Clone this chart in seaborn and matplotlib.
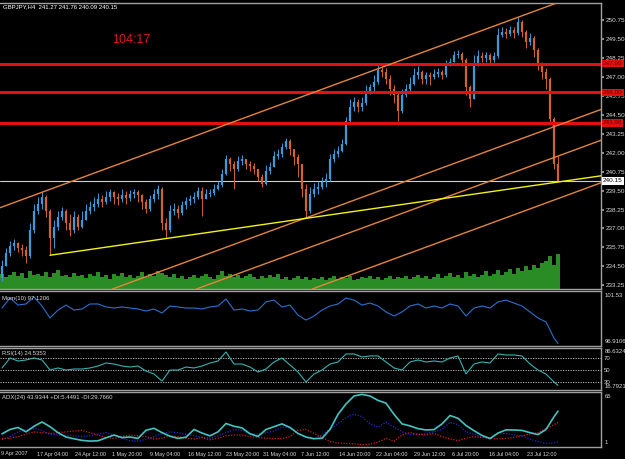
'''
GBPJPY H4 chart redraw: candles, channels, volume and three indicator panes
'''
import numpy as np
import pandas as pd
import seaborn as sns
import matplotlib.pyplot as plt
import matplotlib.transforms as mtransforms

# %% Data

first_open = 233.75
closes = [
    234.51, 235.36, 235.82, 236.02, 235.69, 235.56, 235.16, 236.87, 238.18, 238.64,
    239.10, 238.18, 236.34, 237.13, 237.79, 238.18, 237.33, 236.87, 237.79, 237.13,
    237.53, 238.18, 238.44, 238.64, 238.97, 238.77, 239.10, 239.43, 239.10, 238.97,
    239.23, 239.04, 239.30, 239.43, 239.23, 238.77, 238.31, 238.97, 239.30, 239.63,
    237.33, 236.87, 238.18, 238.31, 238.05, 238.58, 238.84, 238.97, 239.10, 239.49,
    238.97, 239.30, 239.36, 239.63, 239.89, 240.61, 241.59, 241.27, 240.94, 241.46,
    241.59, 241.27, 241.14, 240.94, 240.41, 239.95, 240.81, 241.07, 241.79, 241.92,
    242.38, 242.78, 242.25, 241.73, 241.27, 239.63, 238.18, 239.30, 239.63, 239.76,
    240.09, 240.28, 241.59, 241.92, 242.12, 242.58, 244.09, 245.01, 245.34, 245.01,
    245.27, 246.06, 246.32, 246.71, 247.50, 247.37, 246.85, 246.19, 245.80, 244.74,
    245.80, 246.19, 246.58, 247.17, 247.37, 246.85, 247.11, 246.98, 247.24, 247.37,
    247.11, 247.76, 248.03, 248.49, 248.55, 248.16, 246.32, 245.53, 247.83, 248.42,
    248.29, 248.49, 248.16, 248.42, 249.80, 249.99, 249.86, 250.13, 249.93, 250.65,
    249.99, 249.34, 249.60, 248.81, 247.90, 247.37, 246.85, 244.22, 241.27, 240.15,
]
highs = [
    234.90, 235.69, 236.15, 236.28, 236.08, 235.95, 235.82, 237.33, 238.64, 239.10,
    239.43, 239.23, 238.31, 237.53, 238.18, 238.44, 238.31, 237.98, 238.18, 237.98,
    238.18, 238.64, 238.84, 239.10, 239.36, 239.23, 239.49, 239.63, 239.49, 239.36,
    239.63, 239.49, 239.56, 239.63, 239.56, 239.30, 238.97, 239.23, 239.63, 239.89,
    239.76, 237.66, 238.58, 238.71, 238.58, 238.84, 239.10, 239.23, 239.43, 239.76,
    239.76, 239.63, 239.63, 239.95, 240.15, 240.94, 241.86, 241.73, 241.46, 241.79,
    241.86, 241.59, 241.46, 241.33, 240.94, 240.61, 241.20, 241.40, 242.12, 242.25,
    242.64, 242.97, 242.91, 242.12, 241.92, 241.27, 239.95, 239.76, 240.02, 240.15,
    240.41, 240.68, 241.92, 242.25, 242.45, 242.91, 244.35, 245.53, 245.66, 245.53,
    245.66, 246.45, 246.58, 247.17, 247.83, 247.76, 247.63, 247.11, 246.45, 245.93,
    246.19, 246.52, 246.98, 247.63, 247.76, 247.50, 247.37, 247.37, 247.57, 247.63,
    247.50, 248.16, 248.29, 248.75, 248.81, 248.68, 248.29, 246.45, 248.49, 248.81,
    248.68, 248.68, 248.62, 248.68, 250.26, 250.32, 250.26, 250.39, 250.32, 250.98,
    250.78, 250.13, 249.93, 249.73, 248.95, 248.03, 247.63, 246.98, 244.35, 241.76,
]
lows = [
    233.52, 234.51, 235.16, 235.56, 235.42, 235.16, 234.70, 235.03, 236.67, 237.98,
    238.31, 237.79, 235.23, 235.69, 236.87, 237.53, 236.87, 236.48, 236.67, 236.87,
    237.00, 237.53, 237.98, 238.18, 238.44, 238.44, 238.64, 238.84, 238.64, 238.58,
    238.77, 238.64, 238.84, 239.04, 238.77, 238.31, 238.05, 238.18, 238.77, 238.97,
    236.87, 236.34, 236.74, 237.92, 237.66, 237.92, 238.31, 238.58, 238.71, 238.97,
    237.85, 238.97, 239.10, 239.23, 239.56, 239.76, 240.54, 240.81, 239.63, 240.81,
    241.20, 240.94, 240.81, 240.61, 240.15, 239.76, 239.89, 240.61, 241.07, 241.59,
    241.73, 242.25, 241.86, 241.20, 240.41, 239.10, 237.66, 238.05, 239.10, 239.30,
    239.63, 239.76, 240.15, 241.40, 241.73, 242.05, 242.51, 243.96, 244.74, 244.68,
    244.74, 245.14, 245.86, 246.06, 246.58, 246.98, 246.58, 245.80, 245.27, 244.09,
    244.61, 245.66, 246.06, 246.45, 246.85, 246.58, 246.58, 246.45, 246.85, 246.98,
    246.85, 246.98, 247.76, 248.03, 248.29, 247.76, 245.80, 245.01, 245.53, 247.76,
    248.03, 248.03, 247.90, 248.03, 248.29, 249.67, 249.60, 249.73, 249.60, 249.80,
    249.67, 248.95, 249.14, 248.35, 247.50, 246.85, 246.19, 243.89, 240.94, 240.09,
]
volumes = [
    1500, 1200, 1400, 1700, 1300, 1600, 1100, 1800, 1400, 1500,
    1300, 1700, 1200, 1600, 1900, 1300, 1400, 1200, 1600, 1300,
    1400, 1100, 1500, 1300, 1700, 1200, 1400, 1000, 1500, 1300,
    1600, 1200, 1400, 1100, 1300, 1700, 1200, 1500, 1300, 1800,
    1600, 1400, 1200, 1500, 1100, 1300, 1000, 1200, 1400, 1100,
    1300, 1500, 1200, 1000, 1400, 1800, 1300, 1500, 1200, 1400,
    1100, 1300, 1500, 1200, 1000, 1300, 1100, 1400, 1200, 1500,
    1000, 1200, 900, 1100, 1300, 1000, 1200, 900, 1100, 1000,
    1200, 900, 1100, 1300, 1000, 1200, 1100, 1300, 900, 1000,
    1200, 1100, 1300, 1000, 1200, 900, 1100, 1300, 1000, 1200,
    1100, 1300, 1000, 1200, 1400, 1100, 1300, 1000, 1200, 1500,
    1100, 1300, 1600, 1200, 1400, 1100, 1700, 1300, 1500, 1200,
    1400, 1800, 1300, 1500, 1900, 1400, 1700, 2000, 1500, 2100,
    1800, 2300, 1900, 2400, 2100, 2600, 2800, 3300, 2400, 3500,
]

# indicator readings, one every second candle plus the last one
ind_idx = list(range(0, 139, 2)) + [139]
mom_values = [
    100.10, 100.94, 100.35, 100.44, 101.03, 100.27, 99.26, 99.93, 100.35, 99.93,
    100.02, 100.44, 100.44, 100.19, 100.10, 100.19, 100.10, 100.02, 99.85, 100.02,
    99.68, 100.27, 100.19, 100.10, 100.10, 100.02, 100.19, 100.27, 100.86, 99.93,
    100.02, 99.85, 99.93, 100.61, 100.77, 100.19, 100.35, 99.51, 99.09, 99.43,
    99.93, 100.27, 100.44, 100.94, 100.77, 100.35, 100.52, 100.27, 99.77, 99.43,
    99.77, 100.27, 100.44, 100.10, 100.27, 100.10, 100.44, 100.27, 99.43, 100.10,
    100.27, 100.10, 100.61, 100.77, 100.52, 100.27, 99.77, 99.26, 98.93, 97.58,
    97.12,
]
rsi_values = [
    53.4, 70.0, 65.0, 66.7, 70.0, 66.7, 50.0, 53.4, 50.0, 51.7,
    51.7, 53.4, 56.7, 61.7, 60.0, 56.7, 55.0, 56.7, 48.4, 43.4,
    31.7, 50.0, 50.0, 55.0, 53.4, 56.7, 61.7, 65.0, 80.0, 60.0,
    60.0, 55.0, 46.7, 51.7, 63.4, 70.0, 58.4, 46.7, 30.1, 43.4,
    50.0, 60.0, 63.4, 76.7, 76.7, 71.7, 73.4, 73.4, 63.4, 53.4,
    50.0, 63.4, 66.7, 63.4, 65.0, 63.4, 70.0, 73.4, 43.4, 60.0,
    63.4, 61.7, 76.7, 75.0, 75.0, 73.4, 60.0, 50.0, 43.4, 30.1,
    24.54,
]
adx_values = [
    15.5, 21, 23.5, 18, 25, 30.4, 24.5, 17, 11.5, 9.3,
    7.3, 6.4, 6.8, 10.5, 14, 10.8, 11.5, 9.8, 20, 22.5,
    17, 12.5, 9.8, 11.3, 21, 16.5, 13, 18, 28.5, 25,
    23, 15.5, 12.3, 21, 24.5, 28, 23.5, 16, 11.5, 9.4,
    10, 21, 40, 53, 63, 65, 63, 57.5, 54, 40,
    28, 25.5, 22, 20.4, 20.8, 28, 38.5, 35, 26, 19.5,
    13.5, 9.6, 16.5, 20.5, 20.3, 19.8, 17, 14.6, 21, 37,
    43.93,
]
plus_di = [
    8, 12, 18, 21, 22, 20, 15, 14, 14, 13,
    12, 13, 15, 17, 14, 10, 7, 6, 9, 12,
    16, 18, 17, 15, 13, 11, 10, 13, 17, 21,
    20, 16, 15, 17, 19, 24, 23, 16, 11, 9,
    14, 22, 28, 36, 40, 37, 28, 24, 30, 24,
    18, 15, 14, 16, 18, 21, 30, 27, 18, 15,
    11, 10, 16, 16, 14, 13, 9, 6, 3.5, 4,
    5.45,
]
minus_di = [
    9.6, 10, 12, 15, 18, 17, 16, 17, 18, 19,
    20, 17, 14, 11, 9.6, 12, 14, 13, 12, 9,
    10, 13, 12, 10, 9, 11, 8, 10, 13, 14,
    14, 12, 11, 10, 9.6, 9.6, 12, 20, 21, 16,
    11, 6, 4, 3.5, 3, 2, 2.5, 5, 10, 6,
    14, 17, 15, 14, 16, 12, 9, 7, 10, 12,
    11, 10, 9.5, 9.6, 11, 13, 15, 17, 22, 27,
    29.77,
]

date_labels = ["17 Apr 04:00", "24 Apr 12:00", "1 May 20:00", "9 May 04:00",
               "16 May 12:00", "23 May 20:00", "31 May 04:00", "7 Jun 12:00",
               "14 Jun 20:00", "22 Jun 04:00", "29 Jun 12:00", "6 Jul 20:00",
               "16 Jul 04:00", "23 Jul 12:00"]
first_date_label = "9 Apr 2007"

level_prices = [247.90, 246.00, 243.98]
level_labels = ["247.90", "246.00", "243.98"]
last_price = 240.15

# trend lines as (candle, price) anchor pairs
channel_lines = [
    (0, 238.42, 139, 251.93),
    (62, 236.34, 97, 239.74),
    (69.5, 235.03, 144.5, 242.32),
    (79.5, 233.19, 144.5, 239.51),
]
support_line = (12, 235.23, 149.75, 240.48)

# %% Layout helpers
W, H = 625, 459
X_RIGHT = 601 / W
XLIM = (-0.5, 149.75)
date_pos = [8.75, 18.2, 27.6, 37.0, 46.45, 55.9, 65.3, 74.7, 84.15, 93.6,
            103.0, 112.4, 121.85, 131.3]

def px_rect(top, bottom):
    return [0, 1 - bottom / H, X_RIGHT, (bottom - top) / H]

sns.set_theme(style="dark", rc={
    "figure.facecolor": "black",
    "axes.facecolor": "black",
    "axes.edgecolor": "#9a9a9a",
    "text.color": "#d0d0d0",
    "xtick.color": "#b0b0b0",
    "ytick.color": "#b0b0b0",
})
plt.rcParams['font.family'] = ['Liberation Sans', 'DejaVu Sans']

txt_col = '#d8d8d8'
fig = plt.figure(figsize=(W / 100, H / 100), dpi=100)

def style_panel(ax):
    ax.grid(False)
    ax.set_xlim(XLIM)
    ax.set_xlabel("")
    ax.set_ylabel("")
    ax.spines["left"].set_visible(False)
    for s in ["top", "bottom", "right"]:
        ax.spines[s].set_color('#a0a0a0')
        ax.spines[s].set_linewidth(1.0)
    ax.set_xticks([])

# %% Main price panel
ax_vol = fig.add_axes(px_rect(3, 289), zorder=0)
ax_main = fig.add_axes(px_rect(3, 289), zorder=1)
ax_main.patch.set_visible(False)

df = pd.DataFrame({"close": closes, "high": highs, "low": lows, "volume": volumes})
df["open"] = [first_open] + closes[:-1]
df["idx"] = np.arange(len(df))
df["high"] = df[["high", "open", "close"]].max(axis=1)
df["low"] = df[["low", "open", "close"]].min(axis=1)
df["up"] = df.close >= df.open

ax_vol.bar(df.idx, df.volume, width=0.85, color='#2a8c24', linewidth=0)
ax_vol.set_xlim(XLIM)
ax_vol.set_ylim(0, 28600)
ax_vol.axis('off')
ax_vol.set_facecolor('black')

up_col, dn_col = '#3d9ad8', '#d0642c'
cols = np.where(df.up, up_col, dn_col)
ax_main.vlines(df.idx, df.low, df.high, colors=cols, linewidth=0.7, zorder=3)
ax_main.vlines(df.idx, df[["open", "close"]].min(axis=1), df[["open", "close"]].max(axis=1),
               colors=cols, linewidth=1.6, zorder=3)

for p in level_prices:
    ax_main.axhline(p, color='#e31010', linewidth=2.2, zorder=4)
ax_main.axhline(last_price, color='#cfcfcf', linewidth=0.8, zorder=2)

for x0, p0, x1, p1 in channel_lines:
    ax_main.axline((x0, p0), (x1, p1), color='#e4843a', linewidth=1.0, zorder=5)
sx0, sp0, sx1, sp1 = support_line
sns.lineplot(x=[sx0, sx1], y=[sp0, sp1], ax=ax_main, color='#f2f21a', linewidth=1.0, zorder=5)

ax_main.set_ylim(233.0, 251.9)
style_panel(ax_main)
ax_main.yaxis.tick_right()
ax_main.set_yticks(np.arange(233.25, 251.0, 1.25))
ax_main.yaxis.set_major_formatter(plt.FormatStrFormatter('%.2f'))
ax_main.tick_params(axis='y', labelsize=4.6, length=2, pad=1.5, labelcolor=txt_col, colors='#a0a0a0')

trans = mtransforms.blended_transform_factory(ax_main.transAxes, ax_main.transData)
for p, lab in zip(level_prices, level_labels):
    ax_main.text(1.003, p, lab, transform=trans, fontsize=4.6, color='#6a0000', va='center', ha='left',
                 bbox=dict(facecolor='#e31010', edgecolor='none', pad=0.9), zorder=6, clip_on=False)
ax_main.text(1.003, last_price, f"{last_price:.2f}", transform=trans, fontsize=4.6, color='black',
             va='center', ha='left', bbox=dict(facecolor='white', edgecolor='none', pad=0.9),
             zorder=6, clip_on=False)

fig.text(3 / W, 1 - 7 / H, "GBPJPY,H4  241.27 241.76 240.09 240.15", color='white', fontsize=4.3,
         va='center', ha='left')
fig.text(131 / W, 1 - 40 / H, "104:17", color='#d81c1c', fontsize=9, va='center', ha='center')

# %% Momentum
ax_mom = fig.add_axes(px_rect(291, 346))
sns.lineplot(x=ind_idx, y=mom_values, ax=ax_mom, color='#2d6fd2', linewidth=0.8)
ax_mom.set_ylim(96.9106, 101.53)
style_panel(ax_mom)
ax_mom.set_yticks([])
ax_mom.text(0.004, 0.87, "Mom(10) 97.1206", transform=ax_mom.transAxes, fontsize=4.3, color=txt_col, va='center')
ax_mom.text(1.006, 0.97, "101.53", transform=ax_mom.transAxes, fontsize=4.3, color=txt_col, va='top')
ax_mom.text(1.006, 0.03, "96.9106", transform=ax_mom.transAxes, fontsize=4.3, color=txt_col, va='bottom')

# %% RSI
ax_rsi = fig.add_axes(px_rect(348, 390))
for lvl in [70, 50, 30]:
    ax_rsi.axhline(lvl, color='#c8c8c8', linewidth=0.6, linestyle=(0, (1.5, 1.5)))
sns.lineplot(x=ind_idx, y=rsi_values, ax=ax_rsi, color='#34b4b0', linewidth=0.8)
ax_rsi.set_ylim(16.7921, 86.6324)
style_panel(ax_rsi)
ax_rsi.yaxis.tick_right()
ax_rsi.set_yticks([70, 50, 30])
ax_rsi.tick_params(axis='y', labelsize=4.3, length=0, pad=2, labelcolor=txt_col)
ax_rsi.text(0.004, 0.86, "RSI(14) 24.5353", transform=ax_rsi.transAxes, fontsize=4.3, color=txt_col, va='center')
ax_rsi.text(1.006, 0.97, "86.6324", transform=ax_rsi.transAxes, fontsize=4.3, color=txt_col, va='top')
ax_rsi.text(1.006, 0.02, "16.7921", transform=ax_rsi.transAxes, fontsize=4.3, color=txt_col, va='bottom')

# %% ADX
ax_adx = fig.add_axes(px_rect(392, 447))
sns.lineplot(x=ind_idx, y=plus_di, ax=ax_adx, color='#2828d0', linewidth=0.9, linestyle=(0, (1, 1.2)))
sns.lineplot(x=ind_idx, y=minus_di, ax=ax_adx, color='#c82424', linewidth=0.9, linestyle=(0, (1, 1.2)))
sns.lineplot(x=ind_idx, y=adx_values, ax=ax_adx, color='#44c4c0', linewidth=1.2)
ax_adx.set_ylim(-1, 68)
style_panel(ax_adx)
ax_adx.set_yticks([])
ax_adx.text(0.004, 0.9, "ADX(24) 43.9344 +DI:5.4491 -DI:29.7660", transform=ax_adx.transAxes,
            fontsize=4.3, color=txt_col, va='center')
ax_adx.text(1.006, 0.97, "65", transform=ax_adx.transAxes, fontsize=4.3, color=txt_col, va='top')
ax_adx.text(1.006, 0.03, "1", transform=ax_adx.transAxes, fontsize=4.3, color=txt_col, va='bottom')

ax_adx.set_xticks(date_pos)
ax_adx.set_xticklabels(date_labels)
ax_adx.tick_params(axis='x', labelsize=3.9, length=2, pad=1.5, labelcolor=txt_col, colors='#a0a0a0')
for lab in ax_adx.get_xticklabels():
    lab.set_ha('left')
fig.text(1 / W, 1 - 453 / H, first_date_label, color=txt_col, fontsize=3.9, va='center', ha='left')

plt.savefig('out.png', dpi=100, facecolor='black')
